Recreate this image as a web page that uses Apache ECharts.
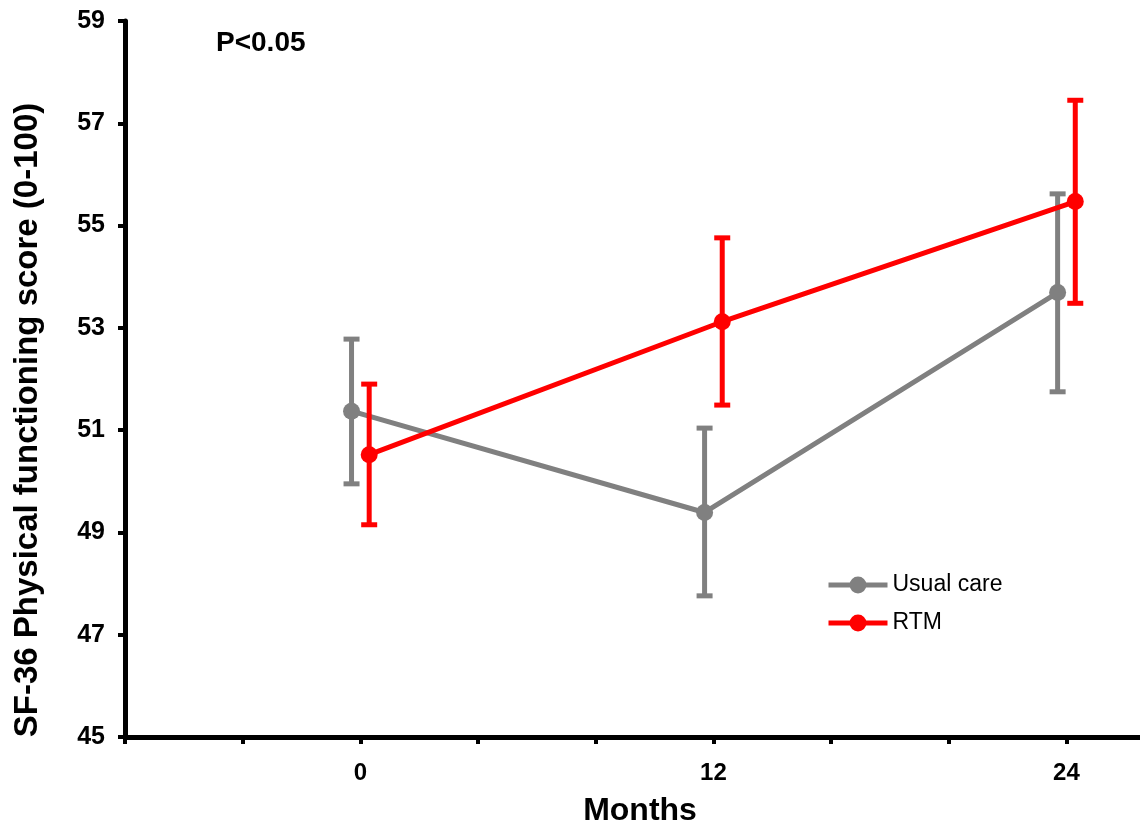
<!DOCTYPE html>
<html>
<head>
<meta charset="utf-8">
<script src="https://cdn.jsdelivr.net/npm/echarts@6/dist/echarts.min.js"></script>
<style>html,body{margin:0;padding:0;background:#fff}#c{width:1140px;height:828px}</style>
</head>
<body>
<div id="c"></div>
<script>
const months = [0, 12, 24];
const usualMean = [51.37, 49.39, 53.69];
const usualLow = [49.95, 47.76, 51.75];
const usualHigh = [52.78, 51.04, 55.62];
const rtmMean = [50.52, 53.12, 55.47];
const rtmLow = [49.15, 51.49, 53.48];
const rtmHigh = [51.90, 54.76, 57.45];
const xTickValues = [-8, -4, 0, 4, 8, 12, 16, 20, 24];
const xLabelValues = [0, 12, 24];
const seriesNames = ['Usual care', 'RTM'];
const titleText = 'P<0.05';
const yName = 'SF-36 Physical functioning score (0-100)';
const xName = 'Months';

const FONT = "'Liberation Sans', Arial, sans-serif";
const GRAY = '#808080', RED = '#ff0000';
const DODGE = 0.3;

function pts(vals, off) { return months.map((m, i) => [m + off, vals[i]]); }
function errs(lo, hi, off) { return months.map((m, i) => [m + off, lo[i], hi[i]]); }
function errRender(color) {
  return function (params, api) {
    const x = api.value(0);
    const p1 = api.coord([x, api.value(1)]);
    const p2 = api.coord([x, api.value(2)]);
    const cw = 8;
    const st = { stroke: color, lineWidth: 5 };
    return { type: 'group', children: [
      { type: 'line', shape: { x1: p1[0], y1: p1[1], x2: p2[0], y2: p2[1] }, style: st },
      { type: 'line', shape: { x1: p1[0] - cw, y1: p1[1], x2: p1[0] + cw, y2: p1[1] }, style: st },
      { type: 'line', shape: { x1: p2[0] - cw, y1: p2[1], x2: p2[0] + cw, y2: p2[1] }, style: st }
    ]};
  };
}

const chart = echarts.init(document.getElementById('c'), null, { renderer: 'canvas' });
chart.setOption({
  animation: false,
  backgroundColor: '#fff',
  textStyle: { fontFamily: FONT },
  grid: { left: 125, right: 0, top: 21, bottom: 91, containLabel: false },
  xAxis: {
    type: 'value', min: -8, max: 26.5,
    splitLine: { show: false },
    axisLine: { show: true, onZero: false, lineStyle: { color: '#000', width: 5 } },
    axisTick: { show: true, customValues: xTickValues, length: 7, lineStyle: { color: '#000', width: 4 } },
    axisLabel: { customValues: xLabelValues, margin: 24, color: '#000', fontSize: 24, fontWeight: 'bold', fontFamily: FONT }
  },
  yAxis: {
    type: 'value', min: 45, max: 59, interval: 2,
    splitLine: { show: false },
    axisLine: { show: true, onZero: false, lineStyle: { color: '#000', width: 5 } },
    axisTick: { show: true, length: 7, lineStyle: { color: '#000', width: 4 } },
    axisLabel: { margin: 20, color: '#000', fontSize: 25, fontWeight: 'bold', fontFamily: FONT }
  },
  legend: {
    data: seriesNames,
    orient: 'vertical', left: 821, top: 568,
    itemWidth: 59, itemHeight: 21, itemGap: 14,
    lineStyle: { width: 5 },
    textStyle: { fontSize: 23, color: '#000', fontFamily: FONT, lineHeight: 24 },
    selectedMode: false
  },
  graphic: [
    { type: 'text', left: 216, top: 29, style: { text: titleText, fontSize: 28, fontWeight: 'bold', fill: '#000', fontFamily: FONT } },
    { type: 'text', x: 28, y: 420, rotation: Math.PI / 2, style: { text: yName, fontSize: 33, fontWeight: 'bold', fill: '#000', fontFamily: FONT, align: 'center', verticalAlign: 'middle' } },
    { type: 'text', x: 640, y: 811, style: { text: xName, fontSize: 32, fontWeight: 'bold', fill: '#000', fontFamily: FONT, align: 'center', verticalAlign: 'middle' } }
  ],
  series: [
    { name: 'uc-err', type: 'custom', renderItem: errRender(GRAY), data: errs(usualLow, usualHigh, -DODGE), encode: { x: 0, y: [1, 2] }, z: 2, clip: false },
    { name: seriesNames[0], type: 'line', data: pts(usualMean, -DODGE), symbol: 'circle', symbolSize: 17,
      itemStyle: { color: GRAY }, lineStyle: { color: GRAY, width: 5 }, z: 3 },
    { name: 'rtm-err', type: 'custom', renderItem: errRender(RED), data: errs(rtmLow, rtmHigh, DODGE), encode: { x: 0, y: [1, 2] }, z: 4, clip: false },
    { name: seriesNames[1], type: 'line', data: pts(rtmMean, DODGE), symbol: 'circle', symbolSize: 17,
      itemStyle: { color: RED }, lineStyle: { color: RED, width: 5 }, z: 5 }
  ]
});
</script>
</body>
</html>
